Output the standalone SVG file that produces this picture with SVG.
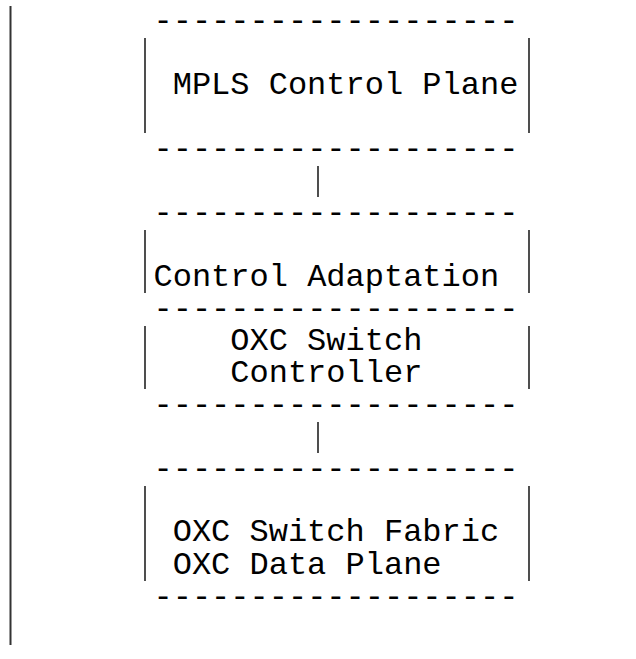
<svg xmlns="http://www.w3.org/2000/svg" width="636" height="659" viewBox="0 0 636 659">
  <style>
    .t { font-family: "Liberation Mono", "Courier New", monospace; font-size: 32px; fill: #000; }
    .bar { stroke: #222; stroke-width: 1.6; fill: none; }
    .edge { stroke: #222; stroke-width: 1.6; fill: none; }
    .margin { stroke: #333; stroke-width: 2; fill: none; }
  </style>
  <rect width="636" height="659" fill="#fff"/>

  <!-- page margin rule -->
  <line class="margin" x1="10.5" y1="6" x2="10.5" y2="645"/>

  <g id="mpls-control-plane">
    <text class="t" x="153.5" y="30">-------------------</text>
    <line class="bar" x1="145" y1="38" x2="145" y2="133"/>
    <line class="bar" x1="529" y1="38" x2="529" y2="133"/>
    <text class="t" x="172.7" y="94">MPLS Control Plane</text>
    <text class="t" x="153.5" y="158">-------------------</text>
  </g>

  <g id="control-adaptation">
    <text class="t" x="153.5" y="222">-------------------</text>
    <line class="bar" x1="145" y1="230" x2="145" y2="293"/>
    <line class="bar" x1="529" y1="230" x2="529" y2="293"/>
    <text class="t" x="153.5" y="286">Control Adaptation</text>
  </g>

  <g id="oxc-switch-controller">
    <text class="t" x="153.5" y="318">-------------------</text>
    <line class="bar" x1="145" y1="326" x2="145" y2="389"/>
    <line class="bar" x1="529" y1="326" x2="529" y2="389"/>
    <text class="t" x="230.3" y="350">OXC Switch</text>
    <text class="t" x="230.3" y="382">Controller</text>
    <text class="t" x="153.5" y="414">-------------------</text>
  </g>

  <g id="oxc-data-plane">
    <text class="t" x="153.5" y="478">-------------------</text>
    <line class="bar" x1="145" y1="486" x2="145" y2="581"/>
    <line class="bar" x1="529" y1="486" x2="529" y2="581"/>
    <text class="t" x="172.7" y="541">OXC Switch Fabric</text>
    <text class="t" x="172.7" y="574">OXC Data Plane</text>
    <text class="t" x="153.5" y="606">-------------------</text>
  </g>

  <g id="connectors">
    <line class="edge" x1="318" y1="166" x2="318" y2="197"/>
    <line class="edge" x1="318" y1="422" x2="318" y2="453"/>
  </g>
</svg>
